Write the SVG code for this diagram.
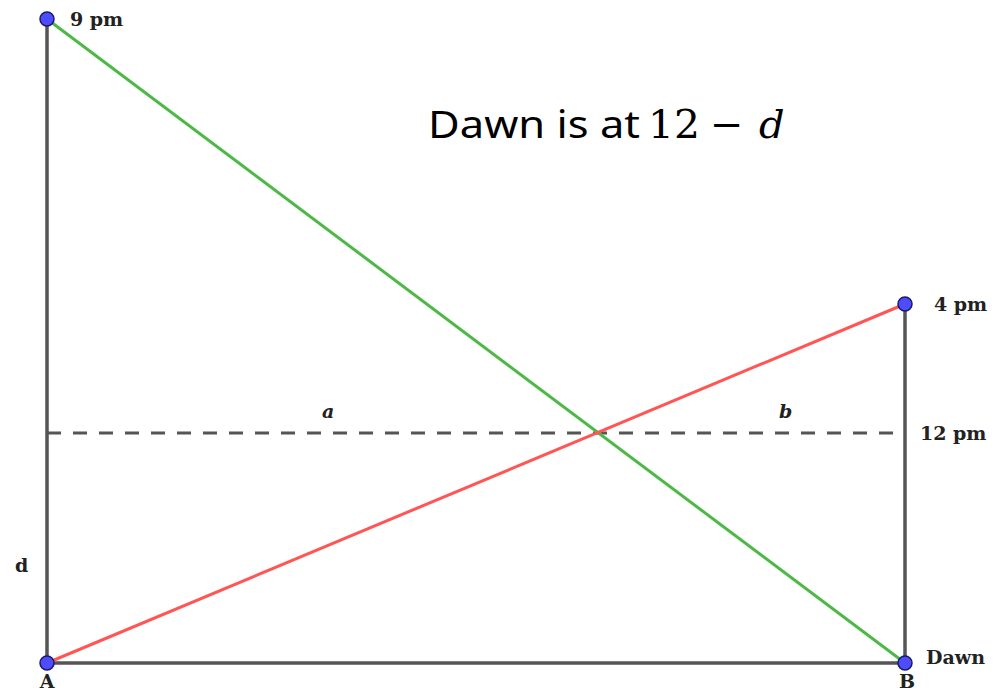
<svg xmlns="http://www.w3.org/2000/svg" width="994" height="693" viewBox="0 0 994 693">
<style>
.frame{stroke:#555555;stroke-width:3.5;fill:none}
.dash{stroke:#555555;stroke-width:3;stroke-dasharray:14 12;fill:none}
.green{stroke:#4cb944;stroke-width:3;fill:none}
.red{stroke:#ff5555;stroke-width:3;fill:none}
.pt{fill:#4d4dff;stroke:#1a1a66;stroke-width:1.5}
.lbl{font-family:"DejaVu Serif","Liberation Serif",serif;font-weight:bold;font-size:19px;fill:#222}
.var{font-family:"DejaVu Serif","Liberation Serif",serif;font-weight:bold;font-style:italic;font-size:19px;fill:#222}
.title{font-family:"Noto Sans","Open Sans",sans-serif;font-size:39px;fill:#000}
.math{font-family:"DejaVu Serif","Liberation Serif",serif;font-size:40px;fill:#000}
</style>
<rect width="994" height="693" fill="#ffffff"/>
<g id="connectors">
<line class="frame" x1="47" y1="19" x2="47" y2="663"/>
<line class="frame" x1="47" y1="663" x2="905" y2="663"/>
<line class="frame" x1="905" y1="304" x2="905" y2="663"/>
<line class="dash" x1="47" y1="433" x2="905" y2="433"/>
<line class="green" x1="47" y1="19" x2="905" y2="663"/>
<line class="red" x1="47" y1="663" x2="905" y2="304"/>
</g>
<g id="p9pm"><circle class="pt" cx="47" cy="19" r="7"/><text class="lbl" x="70" y="26">9 pm</text></g>
<g id="p4pm"><circle class="pt" cx="905" cy="304" r="7"/><text class="lbl" x="934" y="311">4 pm</text></g>
<g id="l12pm"><text class="lbl" x="920" y="440">12 pm</text></g>
<g id="pA"><circle class="pt" cx="47" cy="663" r="7"/><text class="lbl" x="47" y="688" text-anchor="middle">A</text></g>
<g id="pB"><circle class="pt" cx="905" cy="663" r="7"/><text class="lbl" x="907" y="688" text-anchor="middle">B</text><text class="lbl" x="926" y="664">Dawn</text></g>
<g id="ld"><text class="lbl" x="15" y="572">d</text></g>
<g id="la"><text class="var" x="322" y="418">a</text></g>
<g id="lb"><text class="var" x="779" y="418">b</text></g>
<g id="title"><text class="title" x="428" y="138" textLength="212" lengthAdjust="spacingAndGlyphs">Dawn is at</text><text class="math" x="648" y="138" textLength="52" lengthAdjust="spacingAndGlyphs">12</text><text class="math" x="710" y="138">−</text><text class="math" x="759" y="138" font-style="italic">d</text></g>
</svg>
